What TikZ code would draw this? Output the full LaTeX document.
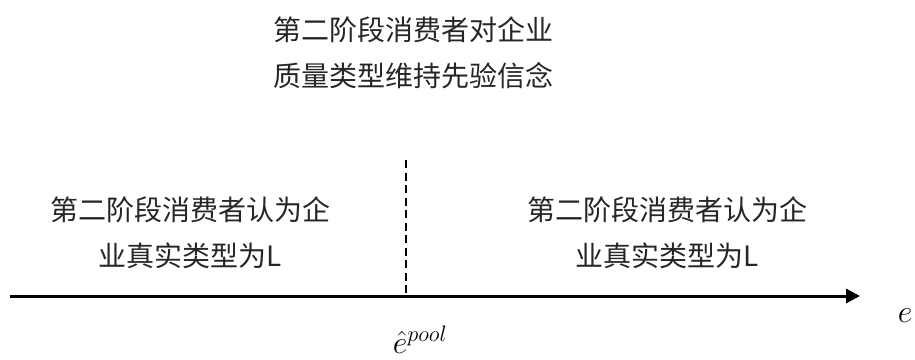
\RequirePackage{fix-cm}
\documentclass[tikz,border=0pt]{standalone}
\usepackage{fontspec}
\setmainfont{Noto Sans CJK SC}
\usetikzlibrary{arrows.meta}
\begin{document}
\begin{tikzpicture}[x=1pt,y=-1pt,
  lbl/.style={font=\fontsize{28}{30}\selectfont, text=black!85, align=center, inner sep=0pt},
  axis/.style={line width=3pt, -{Triangle[length=14pt,width=14pt]}},
  divider/.style={line width=2.6pt, dash pattern=on 8pt off 4.5pt},
  mlbl/.style={font=\fontsize{32}{35}\selectfont, inner sep=0pt}]
\useasboundingbox (0,0) rectangle (915,359);
\node[lbl] (top1) at (413,30) {第二阶段消费者对企业};
\node[lbl] (top2) at (413,76) {质量类型维持先验信念};
\node[lbl] (l1) at (190,210) {第二阶段消费者认为企};
\node[lbl] (l2) at (190,256) {业真实类型为L};
\node[lbl] (r1) at (667,210) {第二阶段消费者认为企};
\node[lbl] (r2) at (667,256) {业真实类型为L};
\coordinate (a0) at (10,296);
\coordinate (a1) at (860,296);
\draw[axis] (a0) -- (a1);
\coordinate (d0) at (406,160);
\coordinate (d1) at (406,296);
\draw[divider] (d0) -- (d1);
\node[mlbl] (e) at (905,316) {$e$};
\node[mlbl] (ep) at (420,340) {$\hat{e}^{pool}$};
\end{tikzpicture}
\end{document}
